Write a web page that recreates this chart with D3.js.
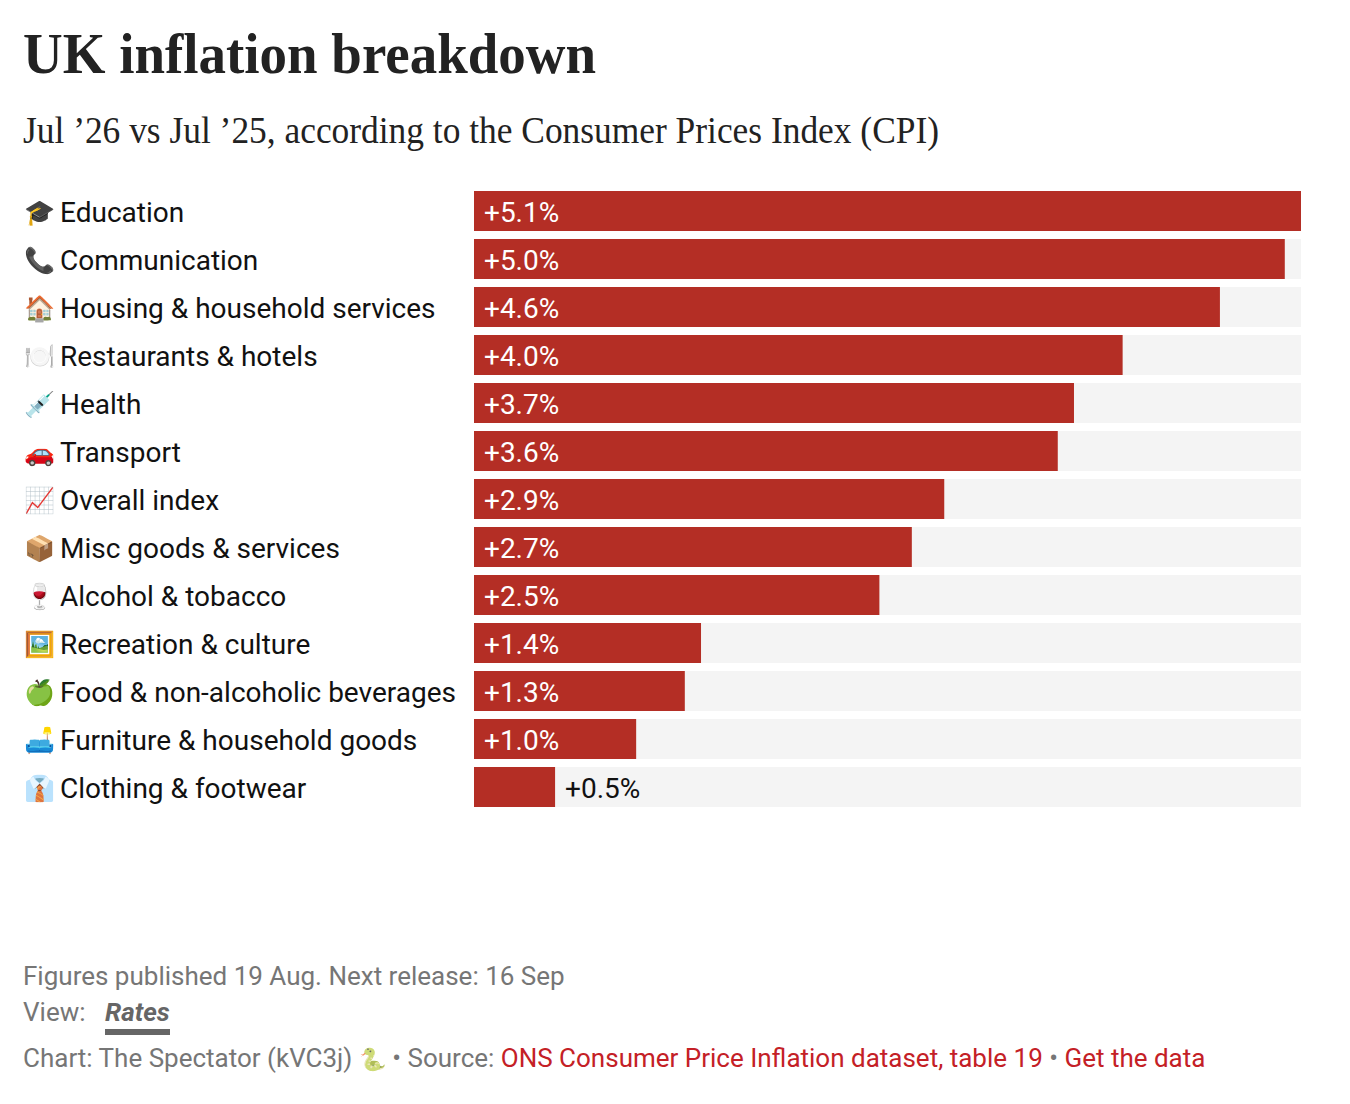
<!DOCTYPE html>
<html><head><meta charset="utf-8">
<script src="https://cdn.jsdelivr.net/npm/d3@7/dist/d3.min.js"></script>
<style>
html,body{margin:0;padding:0;background:#fff}
svg{display:block}
text{font-family:Roboto,sans-serif}
.serif{font-family:"Liberation Serif",serif}
</style></head><body>
<svg id="c" width="1350" height="1104"></svg>
<script>
const categories=["Education","Communication","Housing & household services","Restaurants & hotels","Health","Transport","Overall index","Misc goods & services","Alcohol & tobacco","Recreation & culture","Food & non-alcoholic beverages","Furniture & household goods","Clothing & footwear"];
const icons=["🎓","📞","🏠","🍽️","💉","🚗","📈","📦","🍷","🖼️","🍏","🛋️","👔"];
const values=[5.1,5.0,4.6,4.0,3.7,3.6,2.9,2.7,2.5,1.4,1.3,1.0,0.5];
const svg=d3.select("#c");
const x=d3.scaleLinear().domain([0,5.1]).range([474,1301]);
const y=d3.scaleBand().domain(categories).range([187,811]).paddingInner(8/48).paddingOuter(4/48);
const fmt=v=>"+"+v.toFixed(1)+"%";
svg.append("text").attr("class","serif").attr("x",23).attr("y",73).attr("font-size",58).attr("font-weight",700).attr("fill","#222").attr("textLength",573).attr("lengthAdjust","spacingAndGlyphs").text("UK inflation breakdown");
svg.append("text").attr("class","serif").attr("x",23).attr("y",143).attr("font-size",38).attr("fill","#222").attr("textLength",916).attr("lengthAdjust","spacingAndGlyphs").text("Jul ’26 vs Jul ’25, according to the Consumer Prices Index (CPI)");
const row=svg.selectAll("g.row").data(categories).join("g").attr("class","row");
row.append("rect").attr("x",x(0)).attr("y",d=>y(d)).attr("width",x(5.1)-x(0)).attr("height",y.bandwidth()).attr("fill","#f4f4f4");
row.append("rect").attr("x",x(0)).attr("y",d=>y(d)).attr("width",(d,i)=>x(values[i])-x(0)).attr("height",y.bandwidth()).attr("fill","#b42e25");
row.append("text").attr("x",24).attr("y",d=>y(d)+30).attr("font-size",25).text((d,i)=>icons[i]);
row.append("text").attr("x",60).attr("y",d=>y(d)+31).attr("font-size",28).attr("fill","#111").text(d=>d);
row.append("text").attr("x",(d,i)=>values[i]<0.8?x(values[i])+10:x(0)+10).attr("y",d=>y(d)+31).attr("font-size",28).attr("fill",(d,i)=>values[i]<0.8?"#111":"#fff").text((d,i)=>fmt(values[i]));
const g="#767676",r="#c42026";
svg.append("text").attr("x",23).attr("y",985).attr("font-size",26).attr("fill",g).text("Figures published 19 Aug. Next release: 16 Sep");
svg.append("text").attr("x",23).attr("y",1021).attr("font-size",26).attr("fill",g).text("View:");
svg.append("text").attr("x",105).attr("y",1021).attr("font-size",26).attr("font-weight",700).attr("font-style","italic").attr("fill","#666").text("Rates");
svg.append("rect").attr("x",105).attr("y",1029).attr("width",65).attr("height",6).attr("fill","#666");
const s=svg.append("text").attr("x",23).attr("y",1067).attr("font-size",26).attr("fill",g);
s.append("tspan").text("Chart: The Spectator (kVC3j) ");
s.append("tspan").attr("font-size",22).attr("opacity",0.75).text("🐍");
s.append("tspan").text(" • Source: ");
s.append("tspan").attr("fill",r).text("ONS Consumer Price Inflation dataset, table 19");
s.append("tspan").text(" • ");
s.append("tspan").attr("fill",r).text("Get the data");
</script></body></html>
